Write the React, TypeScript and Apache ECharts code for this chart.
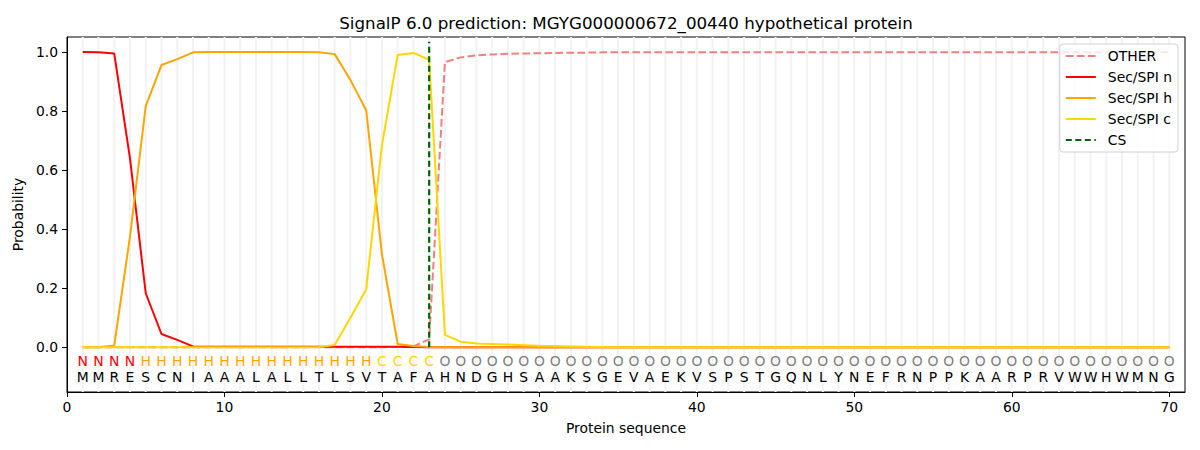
import React, { useEffect, useRef } from "react";
import * as echarts from "echarts";

const residues = "MMRESCNIAAALALLTLSVTAFAHNDGHSAAKSGEVAEKVSPSTGQNLYNEFRNPPKAARPRVWWHWMNG".split("");
const classes = "NNNNHHHHHHHHHHHHHHHCCCCOOOOOOOOOOOOOOOOOOOOOOOOOOOOOOOOOOOOOOOOOOOOOOO".split("");
const positions = residues.map((_, i) => i + 1);

const otherVals = [
  0.0, 0.0, 0.0, 0.0, 0.0, 0.0, 0.0, 0.0, 0.0, 0.0,
  0.0, 0.0, 0.0, 0.0, 0.0, 0.0, 0.0, 0.0, 0.0, 0.0,
  0.001, 0.003, 0.027, 0.966, 0.982, 0.989, 0.992, 0.994, 0.995, 0.996,
  0.997, 0.998, 0.998, 0.999, 0.999, 0.999, 0.999, 0.999, 0.999, 0.999,
  0.999, 0.999, 0.999, 0.999, 0.999, 0.999, 0.999, 0.999, 0.999, 0.999,
  0.999, 0.999, 0.999, 0.999, 0.999, 0.999, 0.999, 0.999, 0.999, 0.999,
  0.999, 0.999, 0.999, 0.999, 0.999, 0.999, 0.999, 0.999, 0.999, 0.999,
];
const secN = [
  1.0, 0.999, 0.995, 0.64, 0.183, 0.045, 0.025, 0.003, 0.002, 0.002,
  0.002, 0.002, 0.002, 0.002, 0.002, 0.002, 0.002, 0.002, 0.002, 0.002,
  0.002, 0.001, 0.0005, 0.0, 0.0, 0.0, 0.0, 0.0, 0.0, 0.0,
  0.0, 0.0, 0.0, 0.0, 0.0, 0.0, 0.0, 0.0, 0.0, 0.0,
  0.0, 0.0, 0.0, 0.0, 0.0, 0.0, 0.0, 0.0, 0.0, 0.0,
  0.0, 0.0, 0.0, 0.0, 0.0, 0.0, 0.0, 0.0, 0.0, 0.0,
  0.0, 0.0, 0.0, 0.0, 0.0, 0.0, 0.0, 0.0, 0.0, 0.0,
];
const secH = [
  0.0, 0.0, 0.006, 0.375, 0.817, 0.956, 0.976, 0.999, 1.0, 1.0,
  1.0, 1.0, 1.0, 1.0, 1.0, 0.999, 0.993, 0.905, 0.803, 0.315,
  0.011, 0.004, 0.001, 0.0, 0.0, 0.0, 0.0, 0.0, 0.0, 0.0,
  0.0, 0.0, 0.0, 0.0, 0.0, 0.0, 0.0, 0.0, 0.0, 0.0,
  0.0, 0.0, 0.0, 0.0, 0.0, 0.0, 0.0, 0.0, 0.0, 0.0,
  0.0, 0.0, 0.0, 0.0, 0.0, 0.0, 0.0, 0.0, 0.0, 0.0,
  0.0, 0.0, 0.0, 0.0, 0.0, 0.0, 0.0, 0.0, 0.0, 0.0,
];
const secC = [
  0.0, 0.0, 0.0, 0.0, 0.0, 0.0, 0.0, 0.0, 0.0, 0.0,
  0.0, 0.0, 0.0, 0.0, 0.0, 0.001, 0.008, 0.1, 0.196, 0.685,
  0.99, 0.997, 0.974, 0.042, 0.019, 0.013, 0.011, 0.009, 0.007, 0.005,
  0.004, 0.003, 0.002, 0.001, 0.0, 0.0, 0.0, 0.0, 0.0, 0.0,
  0.0, 0.0, 0.0, 0.0, 0.0, 0.0, 0.0, 0.0, 0.0, 0.0,
  0.0, 0.0, 0.0, 0.0, 0.0, 0.0, 0.0, 0.0, 0.0, 0.0,
  0.0, 0.0, 0.0, 0.0, 0.0, 0.0, 0.0, 0.0, 0.0, 0.0,
];
const csX = [23, 23];
const csY = [0, 1.035];

const xTicks = [0, 10, 20, 30, 40, 50, 60, 70];
const yTicks = [0, 0.2, 0.4, 0.6, 0.8, 1.0];
const classRowY = -0.047;
const residueRowY = -0.1;

const classColor: Record<string, string> = { N: "#ff0000", H: "#ffa500", C: "#ffd700", O: "#808080" };
const FONT = "DejaVu Sans";

export default function App() {
  const ref = useRef<HTMLDivElement>(null);
  useEffect(() => {
    document.body.style.margin = "0";
    if (!ref.current) return;
    const chart = echarts.init(ref.current, undefined, { renderer: "svg" });
    const pair = (ys: number[]) => positions.map((x, i) => [x, ys[i]]);
    const dash = [7.7, 3.3];
    const textSeries = (rowY: number, letters: string[], colorFn: (i: number) => string) => ({
      type: "custom",
      silent: true,
      z: 5,
      data: positions.map((x) => [x, rowY]),
      renderItem: (params: any, api: any) => {
        const p = api.coord([api.value(0), api.value(1)]);
        const i = params.dataIndex;
        return {
          type: "text",
          x: p[0],
          y: p[1],
          style: {
            text: letters[i],
            fill: colorFn(i),
            font: `13.9px "${FONT}"`,
            textAlign: "center",
            textVerticalAlign: "middle",
          },
        };
      },
    });
    chart.setOption({
      animation: false,
      textStyle: { fontFamily: FONT },
      grid: {
        left: 67,
        right: 15,
        top: 37,
        bottom: 58,
        show: true,
        borderColor: "#000",
        borderWidth: 1,
        backgroundColor: "transparent",
      },
      graphic: [
        {
          type: "text",
          x: 626,
          y: 23,
          style: {
            text: "SignalP 6.0 prediction: MGYG000000672_00440 hypothetical protein",
            font: `16.7px "${FONT}"`,
            fill: "#000",
            textAlign: "center",
            textVerticalAlign: "middle",
          },
        },
      ],
      legend: {
        orient: "vertical",
        right: 22,
        top: 44,
        itemWidth: 30,
        itemHeight: 14,
        itemGap: 7,
        padding: [5, 6, 5, 5],
        borderColor: "#d0d0d0",
        borderWidth: 1,
        borderRadius: 3,
        backgroundColor: "rgba(255,255,255,0.8)",
        itemStyle: { opacity: 0 },
        textStyle: { fontFamily: FONT, fontSize: 13.9, color: "#000", padding: [0, 0, 0, 7] },
        data: ["OTHER", "Sec/SPI n", "Sec/SPI h", "Sec/SPI c", "CS"],
      },
      xAxis: {
        type: "value",
        min: 0,
        max: 71,
        name: "Protein sequence",
        nameLocation: "middle",
        nameGap: 29,
        nameTextStyle: { fontFamily: FONT, fontSize: 13.9, color: "#000" },
        axisLine: { show: true, onZero: false, lineStyle: { color: "#000", width: 1 } },
        axisTick: { show: true, length: 5, lineStyle: { color: "#000" }, customValues: xTicks },
        axisLabel: { fontFamily: FONT, fontSize: 13.9, color: "#000", margin: 8, customValues: xTicks },
        splitLine: { show: false },
      },
      yAxis: {
        type: "value",
        min: -0.1515,
        max: 1.051,
        name: "Probability",
        nameLocation: "middle",
        nameGap: 40,
        nameTextStyle: { fontFamily: FONT, fontSize: 13.9, color: "#000" },
        axisLine: { show: true, onZero: false, lineStyle: { color: "#000", width: 1 } },
        axisTick: { show: true, length: 5, lineStyle: { color: "#000" }, customValues: yTicks },
        axisLabel: {
          fontFamily: FONT,
          fontSize: 13.9,
          color: "#000",
          margin: 9,
          customValues: yTicks,
          formatter: (v: number) => v.toFixed(1),
        },
        splitLine: { show: false },
      },
      series: [
        {
          type: "custom",
          name: "grid",
          silent: true,
          z: 0,
          data: positions.map((x) => [x]),
          renderItem: (params: any, api: any) => {
            const cs = params.coordSys;
            const px = api.coord([api.value(0), 0])[0];
            return {
              type: "line",
              shape: { x1: px, y1: cs.y, x2: px, y2: cs.y + cs.height },
              style: { stroke: "#f2f2f2", lineWidth: 2 },
            };
          },
        },
        {
          type: "line",
          name: "OTHER",
          data: pair(otherVals),
          symbol: "none",
          color: "#f08080",
          lineStyle: { color: "#f08080", width: 2, type: dash },
          z: 2,
        },
        {
          type: "line",
          name: "Sec/SPI n",
          data: pair(secN),
          symbol: "none",
          color: "#ff0000",
          lineStyle: { color: "#ff0000", width: 2 },
          z: 3,
        },
        {
          type: "line",
          name: "Sec/SPI h",
          data: pair(secH),
          symbol: "none",
          color: "#ffa500",
          lineStyle: { color: "#ffa500", width: 2 },
          z: 3,
        },
        {
          type: "line",
          name: "Sec/SPI c",
          data: pair(secC),
          symbol: "none",
          color: "#ffd700",
          lineStyle: { color: "#ffd700", width: 2 },
          z: 3,
        },
        {
          type: "line",
          name: "CS",
          data: csX.map((x, i) => [x, csY[i]]),
          symbol: "none",
          color: "#006400",
          lineStyle: { color: "#006400", width: 2.2, type: [6, 3.5] },
          z: 4,
        },
        textSeries(classRowY, classes, (i) => classColor[classes[i]]),
        textSeries(residueRowY, residues, () => "#000"),
      ],
    });
    return () => chart.dispose();
  }, []);
  return <div ref={ref} style={{ width: 1200, height: 450 }} />;
}
